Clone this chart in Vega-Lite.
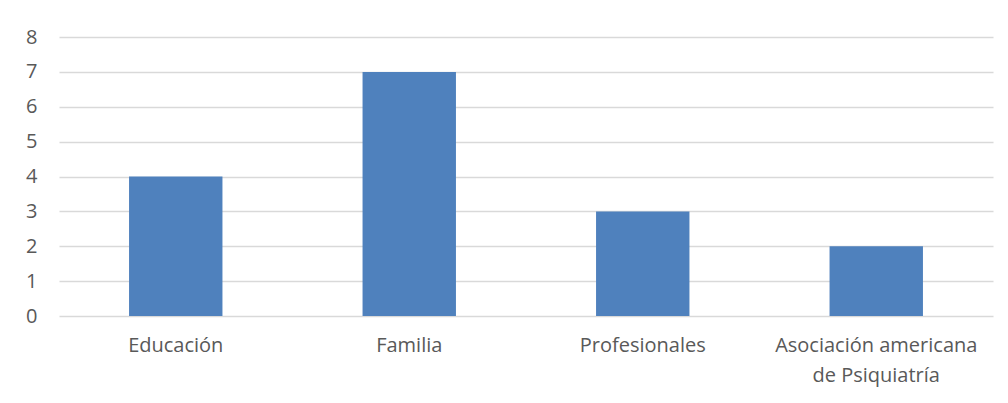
{
  "$schema": "https://vega.github.io/schema/vega-lite/v6.json",
  "width": 934,
  "height": 279,
  "autosize": {"type": "none"},
  "padding": {"left": 59, "top": 37, "right": 15, "bottom": 87},
  "background": "white",
  "data": {
    "values": [
      {"categoria": "Educación", "valor": 4},
      {"categoria": "Familia", "valor": 7},
      {"categoria": "Profesionales", "valor": 3},
      {"categoria": "Asociación americana de Psiquiatría", "valor": 2}
    ]
  },
  "mark": {"type": "bar", "color": "#4F81BD"},
  "encoding": {
    "x": {
      "field": "categoria",
      "type": "nominal",
      "sort": null,
      "scale": {"paddingInner": 0.6, "paddingOuter": 0.3},
      "axis": {
        "title": null,
        "labelAngle": 0,
        "domain": false,
        "ticks": false,
        "labelFont": "Open Sans",
        "labelFontSize": 20,
        "labelColor": "#595959",
        "labelPadding": 19,
        "labelLineHeight": 30,
        "labelLimit": 0,
        "labelOverlap": false,
        "labelExpr": "length(datum.label) > 20 ? ['Asociación americana', 'de Psiquiatría'] : datum.label"
      }
    },
    "y": {
      "field": "valor",
      "type": "quantitative",
      "scale": {"domain": [0, 8]},
      "axis": {
        "title": null,
        "values": [0, 1, 2, 3, 4, 5, 6, 7, 8],
        "labelOverlap": false,
        "domain": false,
        "ticks": false,
        "gridColor": "#d9d9d9",
        "gridWidth": 1.3,
        "labelFont": "Open Sans",
        "labelFontSize": 20,
        "labelColor": "#595959",
        "labelPadding": 22
      }
    }
  },
  "config": {"view": {"stroke": null}}
}
